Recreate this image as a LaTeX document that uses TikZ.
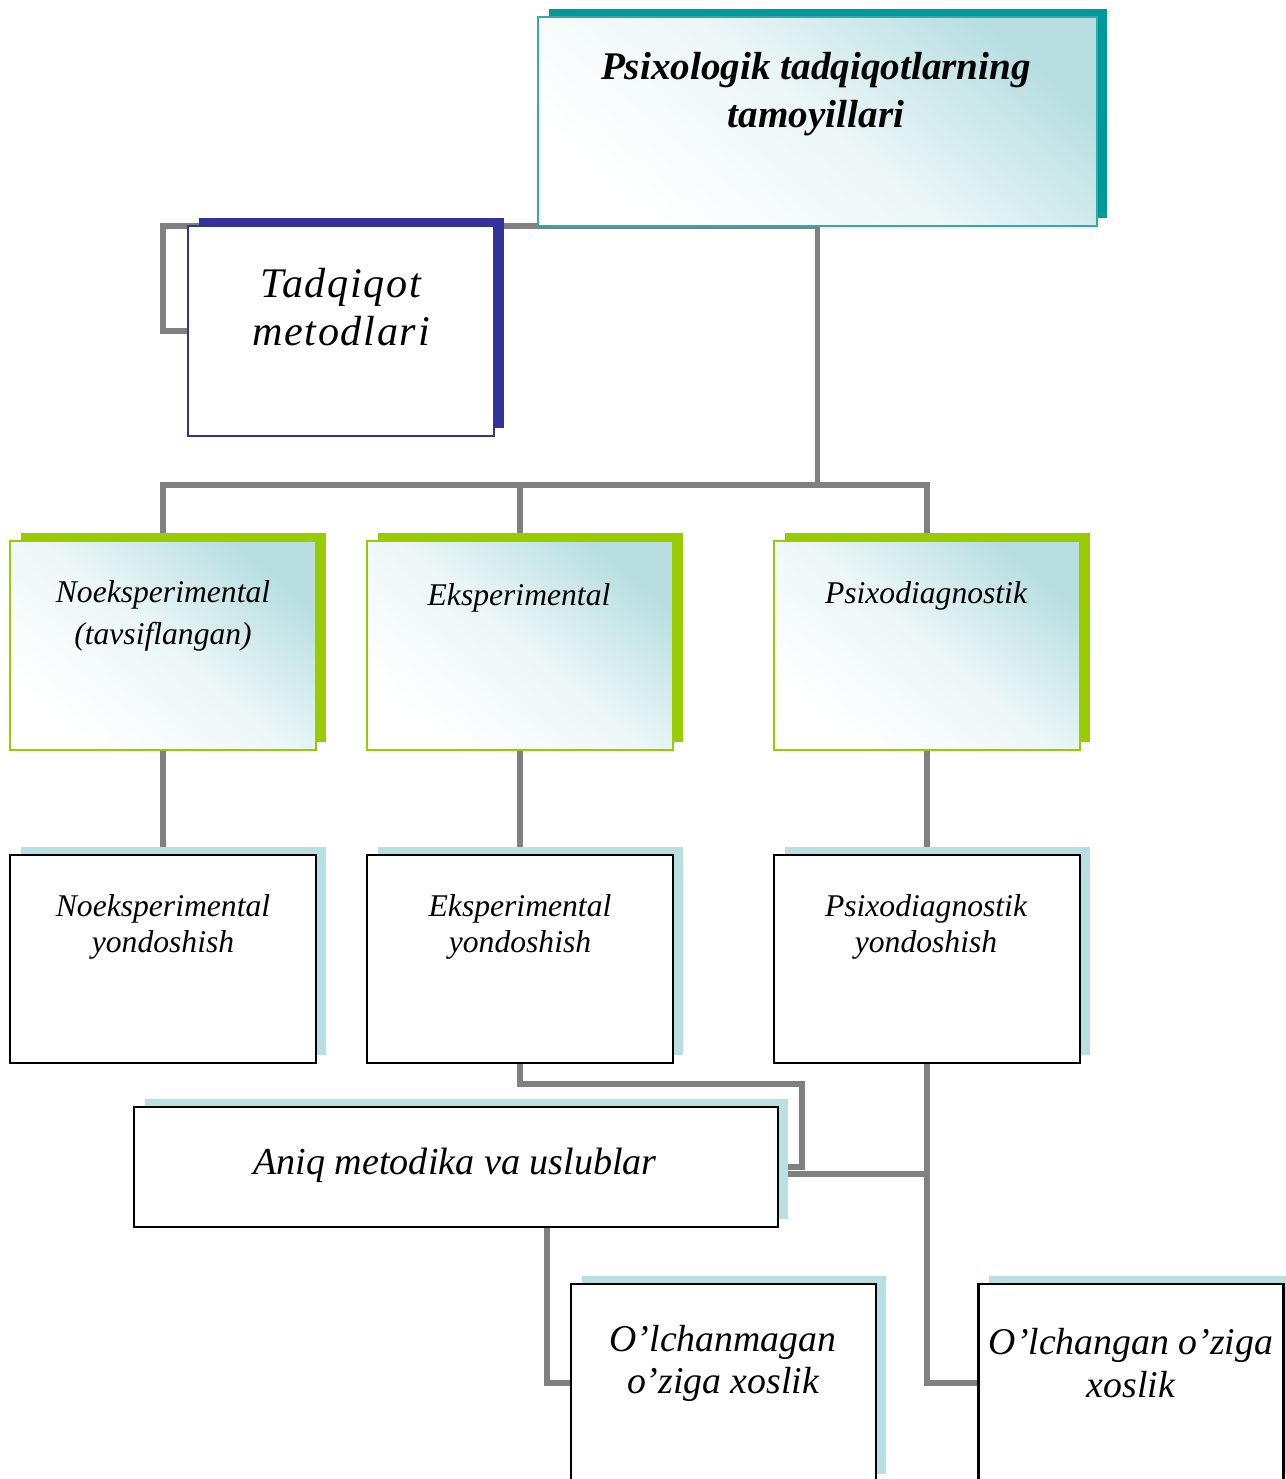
\documentclass[tikz,border=0pt]{standalone}
\usepackage{fontspec}
\setmainfont{Liberation Serif}
\usetikzlibrary{shadows,calc}
\definecolor{cteal}{HTML}{009999}
\definecolor{cteal2}{HTML}{33AAAA}
\definecolor{lteal}{HTML}{B7DEE1}
\definecolor{navy}{HTML}{333399}
\definecolor{lime}{HTML}{99CC00}
\definecolor{lblue}{HTML}{B9DFE2}
\definecolor{cgray}{HTML}{808080}
\pgfdeclarelayer{background}
\pgfsetlayers{background,main}
\begin{document}
\begin{tikzpicture}[x=0.02cm,y=-0.02cm,
  box/.style={rectangle, inner sep=0pt, outer sep=0pt, minimum width=6.12cm, minimum height=4.18cm},
  shd/.style={drop shadow={shadow xshift=0.21cm, shadow yshift=0.16cm, fill=#1, opacity=1}},
  grad/.style={top color=lteal, bottom color=white, middle color=lteal!25!white, shading angle=-40},
  topbox/.style={box, draw=cteal2, line width=1pt, shd=cteal, grad, minimum width=11.18cm, minimum height=4.18cm},
  tadbox/.style={box, draw=navy, line width=1pt, fill=white, shd=navy, minimum height=4.2cm},
  gbox/.style={box, draw=lime, line width=1pt, shd=lime, grad},
  ybox/.style={box, draw=black, line width=1.3pt, fill=white, shd=lblue, minimum height=4.16cm},
  abox/.style={box, draw=black, line width=1.3pt, fill=white, shd=lblue, minimum width=12.88cm, minimum height=2.4cm},
  bbox/.style={box, draw=black, line width=1.3pt, fill=white, shd=lblue, minimum width=6.1cm, minimum height=3.96cm},
  conn/.style={draw=cgray, line width=3.2pt},
  lbl/.style={align=center, inner sep=0pt, font=\itshape\fontsize{18}{24}\selectfont},
  ylbl/.style={align=center, inner sep=0pt, font=\itshape\fontsize{18}{20.5}\selectfont},
  blbl/.style={align=center, inner sep=0pt, font=\itshape\fontsize{21.5}{24}\selectfont}
]
\useasboundingbox (0,0) rectangle (1285,1479);

% boxes
\node[topbox] (top) at (817.5,121.5) {};
\node[tadbox] (tad) at (341,331) {};
\node[gbox] (g1) at (163,645.5) {};
\node[gbox] (g2) at (520,645.5) {};
\node[gbox] (g3) at (927,645.5) {};
\node[ybox] (y1) at (163,959) {};
\node[ybox] (y2) at (520,959) {};
\node[ybox] (y3) at (927,959) {};
\node[abox] (aniq) at (456,1167) {};
\node[bbox] (b1) at (723.5,1383) {};
\node[bbox] (b2) at (1131,1383) {};

% texts
\node[align=center, inner sep=0pt, font=\bfseries\itshape\fontsize{22.3}{27.3}\selectfont] (ttop) at (816,94) {Psixologik tadqiqotlarning\\tamoyillari};
\node[align=center, inner sep=0pt, font=\itshape\fontsize{24}{27.3}\selectfont, text width=7cm] (ttad) at (341,307) {\addfontfeatures{LetterSpace=4}Tadqiqot\\metodlari};
\node[lbl] (tg1) at (163,616) {Noeksperimental\\(tavsiflangan)};
\node[lbl] (tg2) at (519,598) {Eksperimental};
\node[lbl] (tg3) at (926,596) {Psixodiagnostik};
\node[ylbl] (ty1) at (163,927) {Noeksperimental\\yondoshish};
\node[ylbl] (ty2) at (520,927) {Eksperimental\\yondoshish};
\node[ylbl] (ty3) at (926,927) {Psixodiagnostik\\yondoshish};
\node[align=center, inner sep=0pt, font=\itshape\fontsize{21.7}{26}\selectfont] (taniq) at (455,1165) {Aniq metodika va uslublar};
\node[blbl] (tb1) at (723,1363) {O’lchanmagan\\o’ziga xoslik};
\node[blbl] (tb2) at (1131,1363) {O’lchangan o’ziga\\xoslik};

% connectors
\coordinate (bus) at (0,485);
\coordinate (k1) at (802,1084);
\coordinate (k2) at (547,1227);
\begin{pgfonlayer}{background}
\fill[white] (0,0) rectangle (1285,1479);
\draw[conn] (top.south) -- (g1.north |- top.south) |- (tad.west);
\draw[conn] (top.south) -- (top.south |- bus);
\draw[conn] (g1.north) |- (g3.north |- bus) -- (g3.north);
\draw[conn] (g2.north) -- (g2.north |- bus);
\draw[conn] (g1.south) -- (y1.north);
\draw[conn] (g2.south) -- (y2.north);
\draw[conn] (g3.south) -- (y3.north);
\draw[conn] (y2.south) |- (k1) |- (aniq.east);
\draw[conn] (y3.south) |- (b2.west);
\draw[conn] ([yshift=-0.14cm]aniq.east) -- ([yshift=-0.14cm]aniq.east -| y3.south);
\draw[conn] (k2) |- (b1.west);
\end{pgfonlayer}
\end{tikzpicture}
\end{document}
